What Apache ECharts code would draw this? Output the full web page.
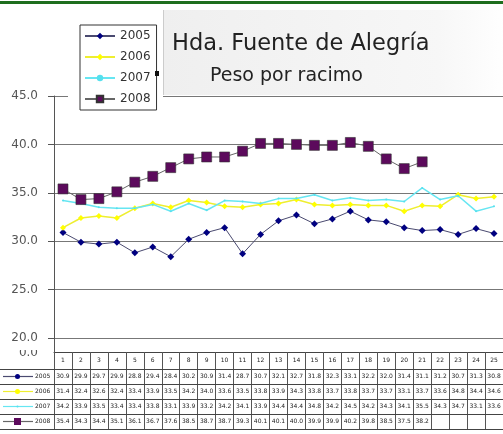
<!DOCTYPE html>
<html>
<head>
<meta charset="utf-8">
<script src="https://cdn.jsdelivr.net/npm/echarts@6/dist/echarts.min.js"></script>
<style>
  html, body { margin: 0; padding: 0; background: #fff; }
  #main { width: 503px; height: 434px; }
</style>
</head>
<body>
<div id="main"></div>
<script>
// semanas (columnas de la tabla)
const categories = ['1','2','3','4','5','6','7','8','9','10','11','12','13',
  '14','15','16','17','18','19','20','21','22','23','24','25'];

// peso por racimo por año
const peso2005 = [30.9, 29.9, 29.7, 29.9, 28.8, 29.4, 28.4, 30.2, 30.9, 31.4, 28.7, 30.7, 32.1,
  32.7, 31.8, 32.3, 33.1, 32.2, 32.0, 31.4, 31.1, 31.2, 30.7, 31.3, 30.8];
const peso2006 = [31.4, 32.4, 32.6, 32.4, 33.4, 33.9, 33.5, 34.2, 34.0, 33.6, 33.5, 33.8, 33.9,
  34.3, 33.8, 33.7, 33.8, 33.7, 33.7, 33.1, 33.7, 33.6, 34.8, 34.4, 34.6];
const peso2007 = [34.2, 33.9, 33.5, 33.4, 33.4, 33.8, 33.1, 33.9, 33.2, 34.2, 34.1, 33.9, 34.4,
  34.4, 34.8, 34.2, 34.5, 34.2, 34.3, 34.1, 35.5, 34.3, 34.7, 33.1, 33.6];
const peso2008 = [35.4, 34.3, 34.4, 35.1, 36.1, 36.7, 37.6, 38.5, 38.7, 38.7, 39.3, 40.1, 40.1,
  40.0, 39.9, 39.9, 40.2, 39.8, 38.5, 37.5, 38.2, null, null, null, null];

const years = ['2005', '2006', '2007', '2008'];
const yTicks = { min: 20, max: 45, step: 5 };

const FONT = 'DejaVu Sans';

const chart = echarts.init(document.getElementById('main'));

const rows = [
  { name: '2005', data: peso2005, line: '#4a4a70', mark: '#000080', symbol: 'diamond', size: 7 },
  { name: '2006', data: peso2006, line: '#eeee30', mark: '#ffff00', symbol: 'diamond', size: 6 },
  { name: '2007', data: peso2007, line: '#66e6f2', mark: '#55e0ee', symbol: 'circle', size: 2 },
  { name: '2008', data: peso2008, line: '#666666', mark: '#5c0a5c', symbol: 'rect', size: 10 }
];

chart.setOption({
  backgroundColor: '#fff',
  animation: false,
  textStyle: { fontFamily: FONT },
  grid: { left: 54, top: 96, width: 453, height: 242 },
  legend: {
    data: years,
    orient: 'vertical',
    left: 80,
    top: 25,
    itemWidth: 30,
    itemHeight: 8,
    itemGap: 9,
    padding: [5, 6, 5, 4],
    borderColor: '#333',
    borderWidth: 1,
    backgroundColor: '#fff',
    textStyle: { fontSize: 12, color: '#333', fontFamily: FONT }
  },
  xAxis: {
    type: 'category',
    data: categories,
    offset: 14,
    axisLine: { lineStyle: { color: '#444' } },
    axisTick: { show: true, interval: 0, length: 77, lineStyle: { color: '#555' } },
    axisLabel: { interval: 0, fontSize: 6, color: '#222', margin: 5 },
    splitLine: { show: false }
  },
  yAxis: {
    type: 'value',
    min: yTicks.min,
    max: yTicks.max,
    interval: yTicks.step,
    axisLine: { show: true, lineStyle: { color: '#555' } },
    axisTick: { show: true, length: 6, lineStyle: { color: '#555' } },
    axisLabel: {
      formatter: v => v.toFixed(1),
      margin: 16,
      fontSize: 12,
      color: '#555'
    },
    splitLine: { lineStyle: { color: '#777' } }
  },
  series: rows.map((r, k) => ({
    name: r.name,
    type: 'line',
    data: r.data,
    z: 2 + k,
    symbol: r.symbol,
    symbolSize: r.size,
    itemStyle: {
      color: r.mark,
      borderColor: r.name === '2008' ? '#333' : r.mark,
      borderWidth: r.name === '2008' ? 0.6 : 0
    },
    lineStyle: { color: r.line, width: r.name === '2008' || r.name === '2005' ? 1 : 1.5 }
  }))
});

// tabla de datos y adornos
function buildExtras() {
  const els = [];
  const rowTop = 369, rowH = 15;

  // línea verde superior
  els.push({ type: 'rect', shape: { x: 0, y: 1, width: 503, height: 3 }, style: { fill: '#1e6e1e' }, z: 5 });

  // caja del título
  els.push({
    type: 'rect', z: 3,
    shape: { x: 163, y: 10, width: 345, height: 85 },
    style: {
      fill: new echarts.graphic.LinearGradient(0, 0, 1, 0, [
        { offset: 0, color: '#efefef' }, { offset: 0.8, color: '#f7f7f7' }, { offset: 1, color: '#ffffff' }
      ])
    }
  });
  els.push({ type: 'line', z: 3, shape: { x1: 163.5, y1: 10, x2: 163.5, y2: 95 }, style: { stroke: '#ccc', lineWidth: 1 } });
  els.push({ type: 'rect', z: 3, shape: { x: 68, y: 90, width: 95, height: 10 }, style: { fill: '#fff' } });
  els.push({
    type: 'text', z: 4,
    style: { text: 'Hda. Fuente de Alegría', x: 172, y: 44, fill: '#222', fontSize: 22.5, fontFamily: FONT, verticalAlign: 'middle' }
  });
  els.push({
    type: 'text', z: 4,
    style: { text: 'Peso por racimo', x: 210, y: 76, fill: '#222', fontSize: 19, fontFamily: FONT, verticalAlign: 'middle' }
  });
  els.push({ type: 'rect', z: 5, shape: { x: 155, y: 71, width: 4, height: 5 }, style: { fill: '#111' } });

  // eje cortado y "0.0"
  els.push({ type: 'line', z: 3, shape: { x1: 54.5, y1: 338, x2: 54.5, y2: 353 }, style: { stroke: '#555', lineWidth: 1 } });
  els.push({
    type: 'text', z: 3,
    style: { text: '0.0', x: 38, y: 353, fill: '#555', fontSize: 12, fontFamily: FONT, align: 'right', verticalAlign: 'middle' }
  });
  els.push({ type: 'rect', z: 4, shape: { x: 10, y: 344, width: 32, height: 6 }, style: { fill: '#fff' } });

  // líneas horizontales de la tabla
  for (let r = 0; r <= rows.length; r++) {
    const y = rowTop + r * rowH + 0.5;
    els.push({ type: 'line', z: 3, shape: { x1: 0, y1: y, x2: 510, y2: y }, style: { stroke: '#444', lineWidth: 1 } });
  }

  rows.forEach((row, r) => {
    const cy = rowTop + r * rowH + rowH / 2;
    // icono de la serie
    els.push({ type: 'line', z: 4, shape: { x1: 3, y1: cy, x2: 33, y2: cy }, style: { stroke: row.line, lineWidth: 1.2 } });
    if (row.symbol === 'rect') {
      els.push({ type: 'rect', z: 5, shape: { x: 14, y: cy - 3.5, width: 7, height: 7 }, style: { fill: row.mark } });
    } else {
      els.push({ type: 'circle', z: 5, shape: { cx: 17.5, cy: cy, r: row.name === '2007' ? 1 : 2.5 }, style: { fill: row.mark } });
    }
    els.push({
      type: 'text', z: 4,
      style: { text: row.name, x: 35, y: cy, fill: '#222', fontSize: 6, fontFamily: FONT, verticalAlign: 'middle' }
    });
    // valores
    row.data.forEach((v, i) => {
      if (v == null) return;
      const x = chart.convertToPixel({ xAxisIndex: 0 }, i);
      els.push({
        type: 'text', z: 4,
        style: { text: v.toFixed(1), x: x, y: cy, fill: '#222', fontSize: 6, fontFamily: FONT, align: 'center', verticalAlign: 'middle' }
      });
    });
  });

  chart.setOption({ graphic: els });
}

buildExtras();
</script>
</body>
</html>
